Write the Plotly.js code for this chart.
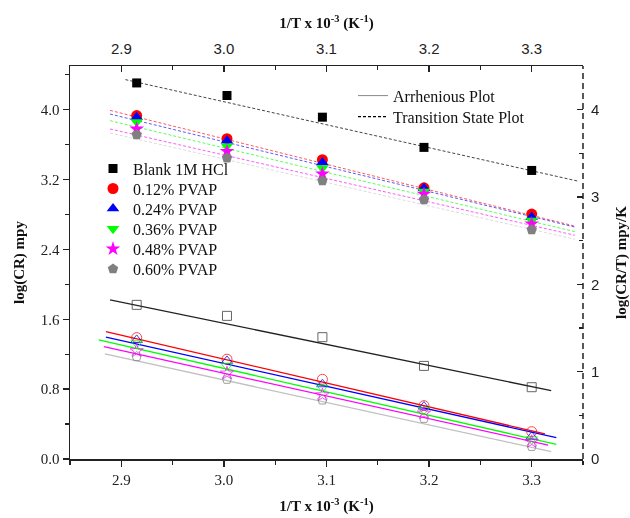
<!DOCTYPE html>
<html>
<head>
<meta charset="utf-8">
<script src="https://cdn.plot.ly/plotly-3.0.1.min.js"></script>
<style>html,body{margin:0;padding:0;background:#fff;}#chart{width:630px;height:518px;}</style>
</head>
<body>
<div id="chart"></div>
<script>
// ---- data ----
const invT = [2.915, 3.003, 3.096, 3.195, 3.300];
const seriesNames = ['Blank 1M HCl', '0.12% PVAP', '0.24% PVAP', '0.36% PVAP', '0.48% PVAP', '0.60% PVAP'];
const seriesColors = ['#000000', '#ff0000', '#0000ff', '#00ff00', '#ff00ff', '#808080'];
const filledSymbols = ['square', 'circle', 'triangle-up', 'triangle-down', 'star', 'pentagon'];
const openSymbols = ['square-open', 'circle-open', 'triangle-up-open', 'triangle-down-open', 'star-open', 'pentagon-open'];

// Transition state plot: log(CR/T) (right axis)
const blankTS   = [4.306, 4.162, 3.914, 3.568, 3.304];
const pvap012TS = [3.933, 3.668, 3.427, 3.105, 2.804];
const pvap024TS = [3.912, 3.645, 3.396, 3.100, 2.770];
const pvap036TS = [3.859, 3.580, 3.332, 3.064, 2.731];
const pvap048TS = [3.779, 3.522, 3.266, 3.034, 2.693];
const pvap060TS = [3.713, 3.446, 3.186, 2.968, 2.625];

// Arrhenius plot: log(CR) (left axis)
const blankAr   = [1.765, 1.639, 1.395, 1.066, 0.822];
const pvap012Ar = [1.390, 1.143, 0.913, 0.611, 0.313];
const pvap024Ar = [1.364, 1.123, 0.856, 0.600, 0.256];
const pvap036Ar = [1.326, 1.066, 0.817, 0.562, 0.225];
const pvap048Ar = [1.238, 0.982, 0.733, 0.524, 0.198];
const pvap060Ar = [1.173, 0.913, 0.676, 0.466, 0.145];

// fitted line end points (x start/end, y start/end)
const fitArX = [[2.889, 3.319], [2.885, 3.313], [2.885, 3.324], [2.878, 3.324], [2.883, 3.316], [2.884, 3.319]];
const fitArY = [[1.822, 0.783], [1.459, 0.287], [1.395, 0.245], [1.364, 0.168], [1.287, 0.160], [1.203, 0.084]];
const fitTSX = [[2.904, 3.345], [2.889, 3.342], [2.889, 3.342], [2.889, 3.342], [2.889, 3.342], [2.889, 3.342]];
const fitTSY = [[4.344, 3.182], [3.992, 2.667], [3.950, 2.656], [3.874, 2.603], [3.779, 2.562], [3.733, 2.516]];

const xTickVals = [2.9, 3.0, 3.1, 3.2, 3.3];
const leftTickVals = [0.0, 0.8, 1.6, 2.4, 3.2, 4.0];
const rightTickVals = [0, 1, 2, 3, 4];
const noteLabels = ['Arrhenious Plot', 'Transition State Plot'];

const tsSeries = [blankTS, pvap012TS, pvap024TS, pvap036TS, pvap048TS, pvap060TS];
const arSeries = [blankAr, pvap012Ar, pvap024Ar, pvap036Ar, pvap048Ar, pvap060Ar];

const serif = 'Liberation Serif, Times New Roman, serif';
const sans = 'Liberation Sans, Arial, sans-serif';

// plot area geometry (px) for legend placement
const plotTop = 66, plotBottom = 459, plotLeft = 70, plotW = 513;
const plotH = plotBottom - plotTop;
function legendAt(px, rowCenterPx) {
  return {
    x: (px - plotLeft) / plotW, y: (plotBottom - (rowCenterPx - 17)) / plotH,
    xanchor: 'left', yanchor: 'top', bgcolor: 'rgba(0,0,0,0)', borderwidth: 0,
    font: {family: serif, size: 16, color: '#111'}, itemwidth: 30
  };
}
function legendKey(k) { return k === 0 ? 'legend' : 'legend' + (k + 1); }

const traces = [];
// Arrhenius fit lines (solid)
for (let i = 0; i < 6; i++) {
  traces.push({
    x: fitArX[i], y: fitArY[i], mode: 'lines', xaxis: 'x', yaxis: 'y',
    line: {color: i === 0 ? '#222' : (i === 5 ? '#c0c0c0' : seriesColors[i]), width: 1.3},
    showlegend: false, hoverinfo: 'skip'
  });
}
// Arrhenius open markers
for (let i = 0; i < 6; i++) {
  traces.push({
    x: invT, y: arSeries[i], mode: 'markers', xaxis: 'x', yaxis: 'y',
    marker: {symbol: openSymbols[i], size: i === 0 ? 9 : 10, color: i === 0 ? '#333' : seriesColors[i], line: {width: 1}},
    opacity: 0.75, showlegend: false
  });
}
// Transition state fit lines (dashed)
for (let i = 0; i < 6; i++) {
  traces.push({
    x: fitTSX[i], y: fitTSY[i], mode: 'lines', xaxis: 'x2', yaxis: 'y2',
    line: {color: i === 0 ? '#444' : (i === 5 ? '#c8c8c8' : seriesColors[i]), width: 1, dash: '3px,2px'},
    opacity: i === 0 ? 1 : 0.65, showlegend: false, hoverinfo: 'skip'
  });
}
const layout = {
  width: 630, height: 518,
  margin: {l: 70, r: 47, t: 66, b: 59},
  paper_bgcolor: '#fff', plot_bgcolor: '#fff',
  xaxis: {
    range: [2.85, 3.35], tickvals: xTickVals, tickformat: '.1f',
    ticks: 'outside', ticklen: 6, tickwidth: 1.3, tickcolor: '#222',
    minor: {dtick: 0.05, tick0: 2.85, ticks: 'outside', ticklen: 4, tickwidth: 1.2, tickcolor: '#222'},
    showline: true, linecolor: '#222', linewidth: 1.5, showgrid: false, zeroline: false,
    tickfont: {family: serif, size: 15, color: '#222'},
    title: {text: '<b>1/T x 10<sup>-3</sup> (K<sup>-1</sup>)</b>', font: {family: serif, size: 15, color: '#111'}, standoff: 14}
  },
  xaxis2: {
    overlaying: 'x', side: 'top', anchor: 'y',
    range: [2.85, 3.35], tickvals: xTickVals, tickformat: '.1f',
    ticks: 'inside', ticklen: 6, tickwidth: 1.3, tickcolor: '#222', ticklabelstandoff: 5,
    minor: {dtick: 0.05, tick0: 2.85, ticks: 'inside', ticklen: 4, tickwidth: 1.2, tickcolor: '#222'},
    showline: true, linecolor: '#222', linewidth: 1.5, showgrid: false, zeroline: false,
    tickfont: {family: sans, size: 15, color: '#222'},
    title: {text: '<b>1/T x 10<sup>-3</sup> (K<sup>-1</sup>)</b>', font: {family: serif, size: 15, color: '#111'}, standoff: 7}
  },
  yaxis: {
    range: [0, 4.5], tickvals: leftTickVals, tickformat: '.1f',
    ticks: 'outside', ticklen: 6, tickwidth: 1.3, tickcolor: '#222',
    minor: {dtick: 0.4, tick0: 0, ticks: 'outside', ticklen: 4, tickwidth: 1.2, tickcolor: '#222'},
    showline: true, linecolor: '#222', linewidth: 1.5, showgrid: false, zeroline: false,
    tickfont: {family: serif, size: 15, color: '#222'},
    title: {text: '<b>log(CR) mpy</b>', font: {family: serif, size: 15, color: '#111'}, standoff: 12}
  },
  yaxis2: {
    overlaying: 'y', side: 'right', anchor: 'x',
    range: [0, 4.5], tickvals: rightTickVals, tickformat: 'd',
    ticks: 'inside', ticklen: 6, tickwidth: 1.3, tickcolor: '#222', ticklabelstandoff: 7,
    minor: {dtick: 0.5, tick0: 0, ticks: 'inside', ticklen: 4, tickwidth: 1.2, tickcolor: '#222'},
    showline: false, showgrid: false, zeroline: false,
    tickfont: {family: sans, size: 15, color: '#222'},
    title: {text: '<b>log(CR/T) mpy/K</b>', font: {family: serif, size: 15, color: '#111'}, standoff: 18}
  },
  shapes: [
    {type: 'line', xref: 'paper', yref: 'paper', x0: 1, x1: 1, y0: 0, y1: 1,
     line: {color: '#222', width: 1.5, dash: '6px,4px'}}
  ],
  showlegend: true
};

// Transition state filled markers, each in its own single-row legend
for (let i = 0; i < 6; i++) {
  const key = legendKey(i);
  traces.push({
    x: invT, y: tsSeries[i], mode: 'markers', xaxis: 'x2', yaxis: 'y2',
    name: seriesNames[i], legend: key,
    marker: {symbol: filledSymbols[i], size: i === 0 ? 9 : 11, color: seriesColors[i], line: {width: 0}}
  });
  layout[key] = legendAt(93, 168.5 + 20.1 * i);
}
// line-style notes
const noteColors = ['#888', '#000'];
const noteDash = ['solid', '3px,2px'];
for (let j = 0; j < 2; j++) {
  const key = legendKey(6 + j);
  traces.push({x: [null], y: [null], mode: 'lines', name: noteLabels[j], legend: key, xaxis: 'x', yaxis: 'y',
    line: {color: noteColors[j], width: j === 0 ? 1 : 1.3, dash: noteDash[j]}});
  layout[key] = legendAt(353, 95.7 + 21 * j);
}

Plotly.newPlot('chart', traces, layout, {displayModeBar: false, staticPlot: true});
</script>
</body>
</html>
